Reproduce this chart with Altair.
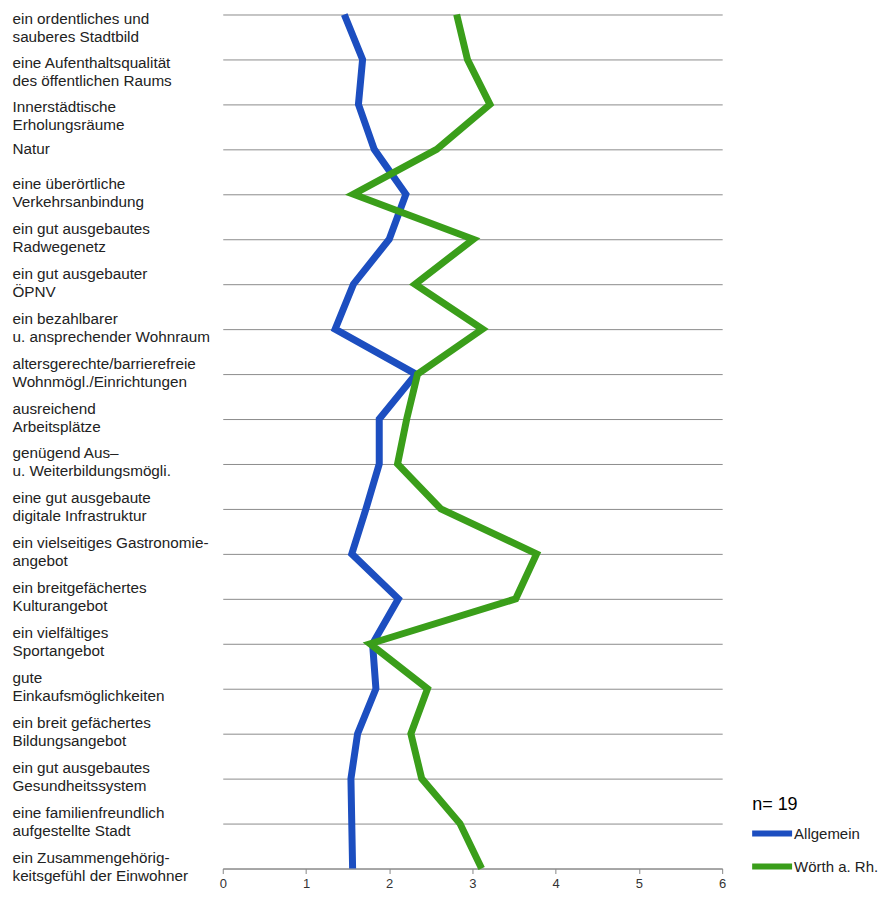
import altair as alt
import pandas as pd

categories = [
    "ein ordentliches und|sauberes Stadtbild",
    "eine Aufenthaltsqualität|des öffentlichen Raums",
    "Innerstädtische|Erholungsräume",
    "Natur",
    "eine überörtliche|Verkehrsanbindung",
    "ein gut ausgebautes|Radwegenetz",
    "ein gut ausgebauter|ÖPNV",
    "ein bezahlbarer|u. ansprechender Wohnraum",
    "altersgerechte/barrierefreie|Wohnmögl./Einrichtungen",
    "ausreichend|Arbeitsplätze",
    "genügend Aus–|u. Weiterbildungsmögli.",
    "eine gut ausgebaute|digitale Infrastruktur",
    "ein vielseitiges Gastronomie-|angebot",
    "ein breitgefächertes|Kulturangebot",
    "ein vielfältiges|Sportangebot",
    "gute|Einkaufsmöglichkeiten",
    "ein breit gefächertes|Bildungsangebot",
    "ein gut ausgebautes|Gesundheitssystem",
    "eine familienfreundlich|aufgestellte Stadt",
    "ein Zusammengehörig-|keitsgefühl der Einwohner",
]

allgemein = [1.46, 1.68, 1.63, 1.82, 2.20, 2.00, 1.57, 1.35, 2.32, 1.88,
             1.88, 1.72, 1.55, 2.11, 1.80, 1.84, 1.62, 1.54, 1.55, 1.56]
woerth = [2.81, 2.94, 3.21, 2.57, 1.57, 3.01, 2.31, 3.12, 2.34, 2.21,
          2.10, 2.62, 3.77, 3.52, 1.77, 2.46, 2.26, 2.39, 2.85, 3.11]

series_names = ["Allgemein", "Wörth a. Rh."]
series_colors = ["#1c4ec0", "#3a9e1a"]
x_ticks = [0, 1, 2, 3, 4, 5, 6]
n_label = "n= 19"

rows = []
for name, vals in zip(series_names, [allgemein, woerth]):
    for i, (c, v) in enumerate(zip(categories, vals)):
        rows.append({"cat": c, "idx": i, "value": v, "series": name})
df = pd.DataFrame(rows)

offset_rules = [
    {"test": "datum.value === '" + categories[0] + "'", "value": 4},
    {"test": "datum.value === '" + categories[1] + "'", "value": 3},
    {"test": "datum.value === '" + categories[2] + "'", "value": 2},
    {"test": "datum.value === '" + categories[3] + "'", "value": -1},
]

font = "Liberation Sans"

chart = alt.Chart(df).mark_line(strokeWidth=7).encode(
    x=alt.X("value:Q",
            scale=alt.Scale(domain=[0, 6], nice=False, zero=False),
            axis=alt.Axis(values=x_ticks, title=None, grid=False, tickSize=5,
                          tickColor="#888888", domainColor="#888888",
                          labelFontSize=13, labelColor="#333333", labelPadding=4,
                          labelFont=font, labelFlush=False)),
    y=alt.Y("cat:N", sort=categories,
            scale=alt.Scale(type="point", padding=0),
            axis=alt.Axis(title=None, grid=True, gridColor="#8c8c8c", gridWidth=1,
                          ticks=False, domain=False, labelAlign="left",
                          labelBaseline="middle", labelPadding=211,
                          labelExpr="split(datum.label, '|')",
                          labelLineHeight=18, labelFontSize=15.3,
                          labelFont=font, labelColor="#222222", labelLimit=400,
                          labelOffset={"condition": offset_rules, "value": -11})),
    color=alt.Color("series:N",
                    scale=alt.Scale(domain=series_names, range=series_colors),
                    legend=alt.Legend(title=n_label, orient="none", legendX=530, legendY=782,
                                      symbolType="M-1.2,0H1.2", symbolSize=1110,
                                      symbolStrokeWidth=6, labelFontSize=15,
                                      labelFont=font, titleFont=font,
                                      titleFontSize=18, titleFontWeight="normal",
                                      titleColor="#000000", labelColor="#222222",
                                      labelOffset=2, rowPadding=1, titlePadding=0)),
    order=alt.Order("idx:Q"),
).properties(
    width=500, height=855,
    autosize=alt.AutoSizeParams(type="none"),
    padding={"left": 215, "top": 6, "right": 160, "bottom": 22},
).configure_view(stroke=None)

chart.save("out.html", embed_options={"renderer": "svg", "actions": False})
